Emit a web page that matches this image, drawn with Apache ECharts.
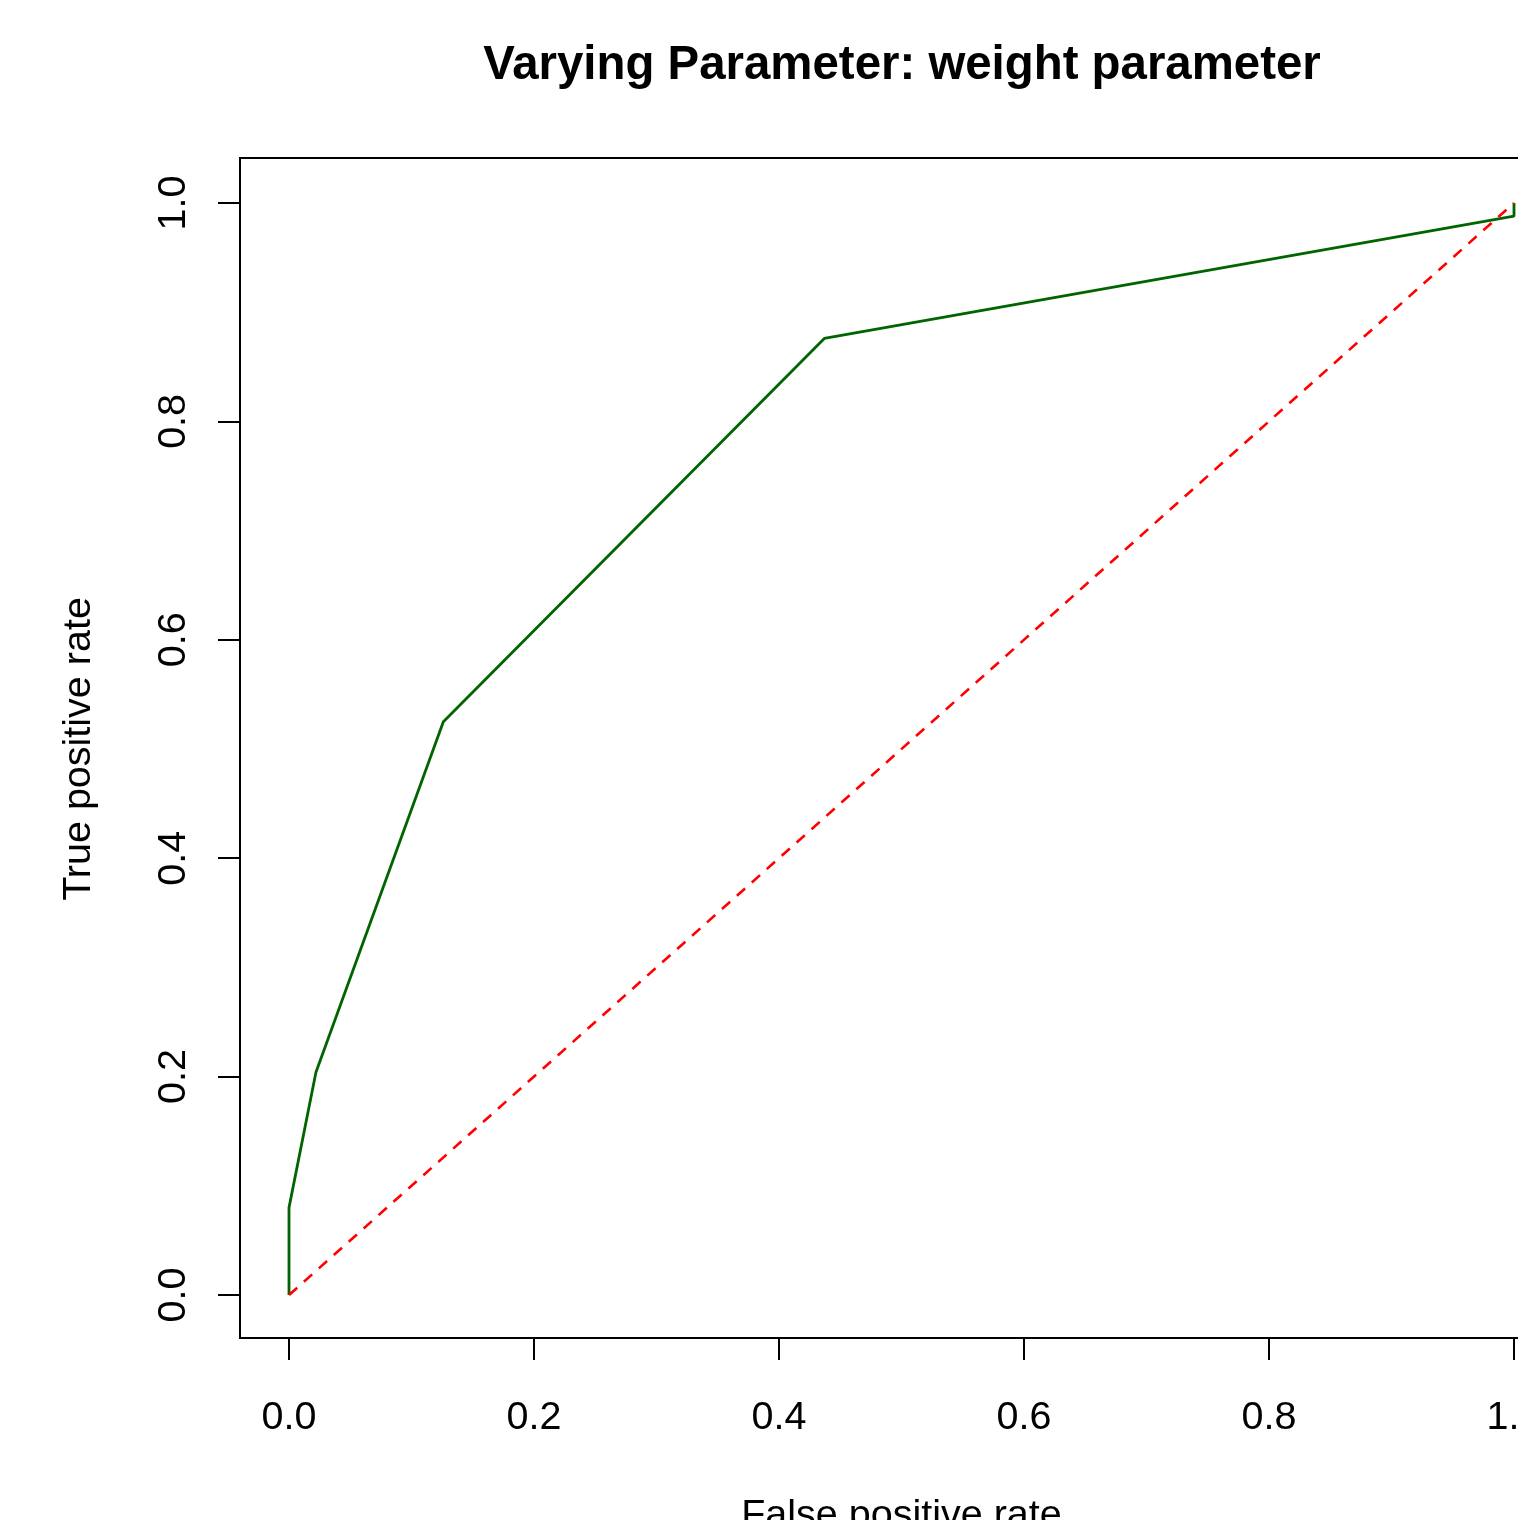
<!DOCTYPE html>
<html>
<head>
<meta charset="utf-8">
<script src="https://cdn.jsdelivr.net/npm/echarts@6/dist/echarts.min.js"></script>
<style>
html,body{margin:0;padding:0;background:#fff;}
#chart{width:1518px;height:1520px;}
</style>
</head>
<body>
<div id="chart"></div>
<script>
const titleText = 'Varying Parameter: weight parameter';
const xLabel = 'False positive rate';
const yLabel = 'True positive rate';
const fpr = [0, 0, 0.022, 0.126, 0.437, 1, 1];
const tpr = [0, 0.08, 0.204, 0.525, 0.876, 0.988, 1];
const chanceX = [0, 1];
const chanceY = [0, 1];

const rocData = fpr.map((x, i) => [x, tpr[i]]);
const chanceData = chanceX.map((x, i) => [x, chanceY[i]]);

const FONT = 'Liberation Sans, Arial, Helvetica, sans-serif';
const chart = echarts.init(document.getElementById('chart'), null, {renderer: 'canvas'});
chart.setOption({
  backgroundColor: '#ffffff',
  animation: false,
  title: {
    text: titleText,
    left: 897,
    textAlign: 'center',
    top: 37,
    textStyle: {fontFamily: FONT, fontSize: 47.4, fontWeight: 'bold', color: '#000'}
  },
  graphic: [{
    type: 'rect',
    shape: {x: 240, y: 158, width: 1323, height: 1180},
    style: {fill: 'none', stroke: '#000', lineWidth: 2},
    silent: true,
    z: 10
  }],
  grid: {left: 289, top: 203, width: 1225, height: 1092, containLabel: false, outerBoundsMode: 'none'},
  xAxis: {
    type: 'value', min: 0, max: 1, interval: 0.2,
    offset: 43,
    axisLine: {show: true, onZero: false, lineStyle: {color: '#000', width: 2}},
    axisTick: {show: true, inside: false, length: 22, lineStyle: {color: '#000', width: 2}},
    axisLabel: {margin: 60, fontFamily: FONT, fontSize: 39.5, color: '#000',
      hideOverlap: false, formatter: v => v.toFixed(1)},
    splitLine: {show: false},
    name: xLabel, nameLocation: 'middle', nameGap: 158,
    nameTextStyle: {fontFamily: FONT, fontSize: 39.5, color: '#000'}
  },
  yAxis: {
    type: 'value', min: 0, max: 1, interval: 0.2,
    offset: 49,
    axisLine: {show: true, onZero: false, lineStyle: {color: '#000', width: 2}},
    axisTick: {show: true, inside: false, length: 22, lineStyle: {color: '#000', width: 2}},
    axisLabel: {margin: 46, rotate: 90, fontFamily: FONT, fontSize: 39.5, color: '#000',
      formatter: v => v.toFixed(1)},
    splitLine: {show: false},
    name: yLabel, nameLocation: 'middle', nameGap: 141, nameRotate: 90,
    nameTextStyle: {fontFamily: FONT, fontSize: 39.5, color: '#000'}
  },
  series: [
    {
      type: 'line', data: rocData, symbol: 'none', clip: false,
      lineStyle: {color: '#006400', width: 2.8}, z: 3
    },
    {
      type: 'line', data: chanceData, symbol: 'none', clip: false,
      lineStyle: {color: '#ff0000', width: 2.6, type: [11, 9]}, z: 4
    }
  ]
});
</script>
</body>
</html>
